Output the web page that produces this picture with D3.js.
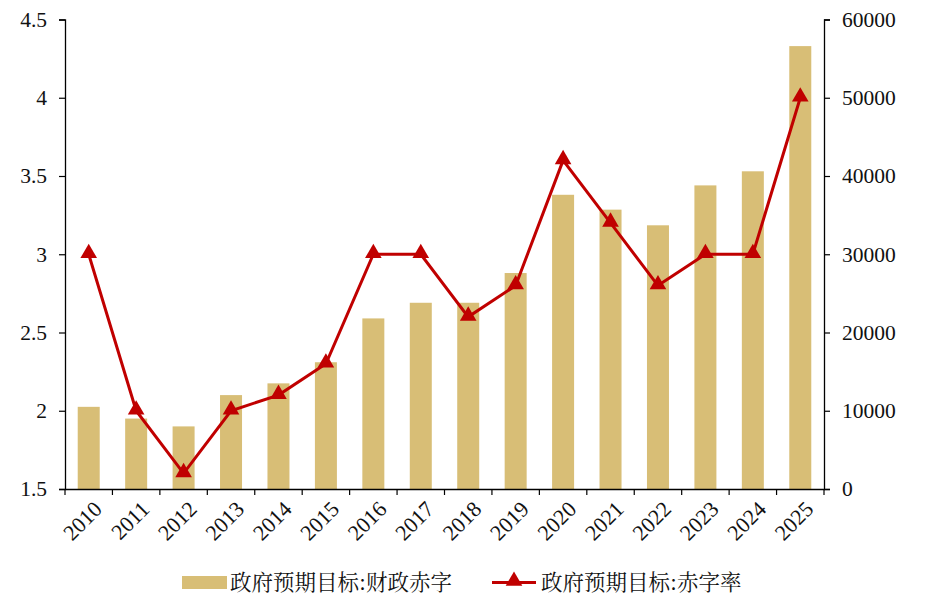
<!DOCTYPE html>
<html><head><meta charset="utf-8">
<script src="https://cdn.jsdelivr.net/npm/d3@7"></script>
<style>body{margin:0;background:#fff}svg{display:block}</style>
</head><body>
<svg id="c" width="928" height="599"></svg>
<script>
const years = ["2010","2011","2012","2013","2014","2015","2016","2017","2018","2019","2020","2021","2022","2023","2024","2025"];
const deficit = [10500,9000,8000,12000,13500,16200,21800,23800,23800,27600,37600,35700,33700,38800,40600,56600];
const deficitRate = [3.0,2.0,1.6,2.0,2.1,2.3,3.0,3.0,2.6,2.8,3.6,3.2,2.8,3.0,3.0,4.0];
const leftTicks = [1.5,2,2.5,3,3.5,4,4.5];
const rightTicks = [0,10000,20000,30000,40000,50000,60000];
const seriesNames = ["政府预期目标:财政赤字","政府预期目标:赤字率"];

const W=928,H=599, m={l:65,r:104,t:19.5,b:110};
const svg=d3.select("#c");
const xb=d3.scaleBand().domain(years).range([m.l,W-m.r]);
const yL=d3.scaleLinear().domain([1.5,4.5]).range([H-m.b,m.t]);
const yR=d3.scaleLinear().domain([0,60000]).range([H-m.b,m.t]);
const barColor="#D8BE76", lineColor="#C00000";
const font="'Liberation Serif','Times New Roman',serif";

svg.append("g").selectAll("rect").data(deficit).join("rect")
  .attr("x",(d,i)=>xb(years[i])+xb.bandwidth()/2-11).attr("width",22)
  .attr("y",d=>yR(d)).attr("height",d=>yR(0)-yR(d)).attr("fill",barColor);

const line=d3.line().x((d,i)=>xb(years[i])+xb.bandwidth()/2).y(d=>yL(d));
svg.append("path").datum(deficitRate).attr("d",line).attr("fill","none")
  .attr("stroke",lineColor).attr("stroke-width",3);
const tri=d3.symbol().type(d3.symbolTriangle).size(120);
svg.append("g").selectAll("path").data(deficitRate).join("path")
  .attr("d",tri).attr("fill",lineColor)
  .attr("transform",(d,i)=>`translate(${xb(years[i])+xb.bandwidth()/2},${yL(d)-1})`);

function styleAxis(g){
  g.selectAll("path.domain").attr("stroke","#000").attr("stroke-width",1.3);
  g.selectAll(".tick line").attr("stroke","#000").attr("stroke-width",1.2);
  g.selectAll("text").attr("font-family",font).attr("fill","#111");
}
const gl=svg.append("g").attr("transform",`translate(${m.l},0)`)
  .call(d3.axisLeft(yL).tickValues(leftTicks).tickSize(6).tickSizeOuter(6).tickPadding(12).tickFormat(d=>d));
styleAxis(gl); gl.selectAll("text").attr("font-size",21.5);
const gr=svg.append("g").attr("transform",`translate(${W-m.r},0)`)
  .call(d3.axisRight(yR).tickValues(rightTicks).tickSize(6).tickSizeOuter(6).tickPadding(12).tickFormat(d=>d));
styleAxis(gr); gr.selectAll("text").attr("font-size",21.5);

const gx=svg.append("g").attr("transform",`translate(0,${H-m.b})`)
  .call(d3.axisBottom(xb).tickSize(0).tickSizeOuter(0));
styleAxis(gx);
gx.selectAll("text").attr("font-size",22).attr("text-anchor","end")
  .attr("transform","translate(7,14) rotate(-45)").attr("dy","0.35em").attr("dx","0");
const bounds=years.map(y=>xb(y)).concat([xb.range()[1]]);
gx.append("g").selectAll("line").data(bounds).join("line")
  .attr("x1",d=>d).attr("x2",d=>d).attr("y1",0).attr("y2",6)
  .attr("stroke","#000").attr("stroke-width",1.2);

const lg=svg.append("g");
const cjk="'Noto Serif CJK SC','Noto Sans CJK SC',serif";
lg.append("rect").attr("x",182).attr("y",576).attr("width",45).attr("height",13).attr("fill",barColor);
lg.append("text").attr("x",230).attr("y",590).attr("font-family",cjk).attr("font-size",21.5).attr("fill","#111").text(seriesNames[0]);
lg.append("line").attr("x1",492).attr("x2",536).attr("y1",582.5).attr("y2",582.5).attr("stroke",lineColor).attr("stroke-width",3);
lg.append("path").attr("d",tri).attr("fill",lineColor).attr("transform","translate(514,581)");
lg.append("text").attr("x",541).attr("y",590).attr("font-family",cjk).attr("font-size",21.5).attr("fill","#111").text(seriesNames[1]);
</script>
</body></html>
